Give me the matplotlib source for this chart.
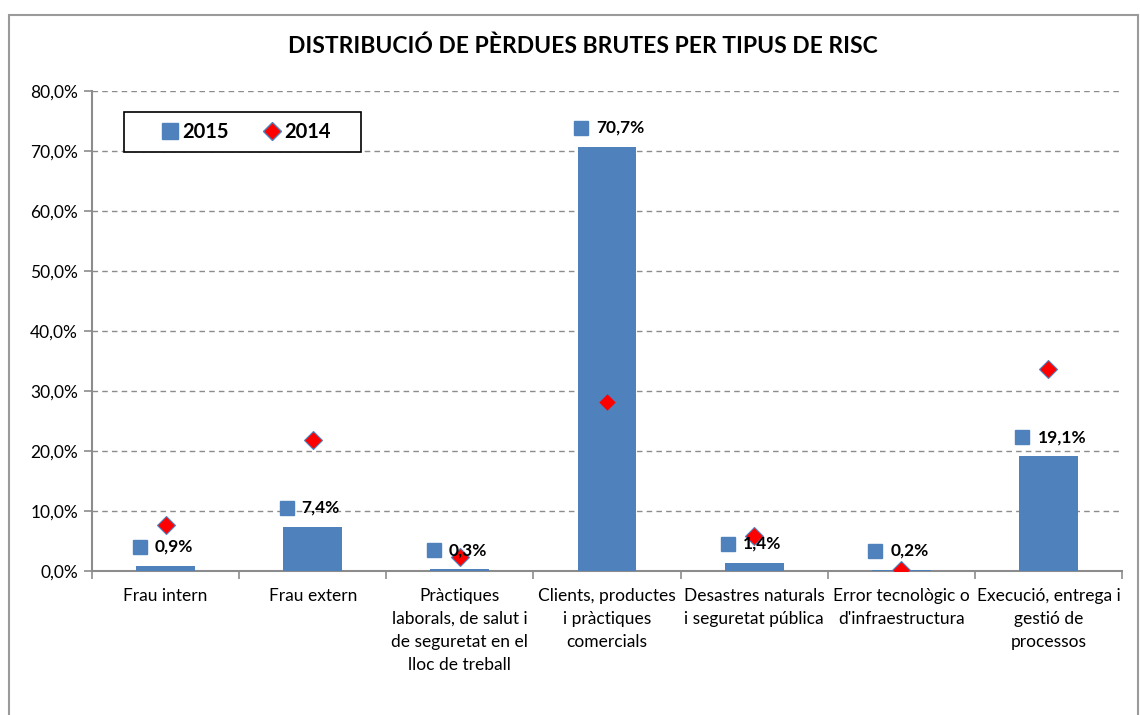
import matplotlib.pyplot as plt
from matplotlib.patches import Rectangle
from matplotlib.lines import Line2D
import matplotlib.transforms as mtransforms
import numpy as np

plt.rcParams['font.family'] = ['Lato', 'DejaVu Sans']

categories = ["Frau intern", "Frau extern",
              "Pràctiques\nlaborals, de salut i\nde seguretat en el\nlloc de treball",
              "Clients, productes\ni pràctiques\ncomercials",
              "Desastres naturals\ni seguretat pública",
              "Error tecnològic o\nd'infraestructura",
              "Execució, entrega i\ngestió de\nprocessos"]
vals_2015 = [0.9, 7.4, 0.3, 70.7, 1.4, 0.2, 19.1]
vals_2014 = [7.7, 21.8, 2.3, 28.2, 5.8, 0.2, 33.7]
yticks = [0, 10, 20, 30, 40, 50, 60, 70, 80]

blue = '#4F81BD'
fig = plt.figure(figsize=(11.4, 7.15), dpi=100)
ax = fig.add_axes([0.0807, 0.2014, 0.9035, 0.6713])

# outer chart border
fig.patches.append(Rectangle((9 / 1140, -0.01), 1129 / 1140, 1 - 15 / 715 + 0.01,
                             transform=fig.transFigure, fill=False,
                             edgecolor='#9a9a9a', linewidth=1.5))

x = np.arange(len(categories))
ax.bar(x, vals_2015, width=0.4, color=blue, zorder=3)
ax.plot(x, vals_2014, linestyle='none', marker='D', markersize=9.5,
        markerfacecolor='#FF0000', markeredgecolor='#4F81BD', markeredgewidth=0.8, zorder=4)

# data labels with legend key
for xi, v in zip(x, vals_2015):
    lab = f"{v:.1f}%".replace('.', ',')
    sq = mtransforms.offset_copy(ax.transData, fig=fig, x=-26, y=19, units='dots')
    ax.plot([xi], [v], marker='s', markersize=10, color=blue, linestyle='none',
            transform=sq, zorder=5, clip_on=False)
    ax.annotate(lab, xy=(xi, v), xytext=(-11, 19), textcoords='offset pixels',
                ha='left', va='center', fontsize=12.5, fontweight='bold', zorder=6)

ax.set_xlim(-0.5, len(categories) - 0.5)
ax.set_ylim(0, 80)
ax.set_yticks(yticks)
ax.set_yticklabels([f"{t:.1f}%".replace('.', ',') for t in yticks], fontsize=12.5)
ax.set_xticks(np.arange(len(categories) + 1) - 0.5)
ax.set_xticklabels([])
ax.set_xticks(x, minor=True)
ax.set_xticklabels(categories, minor=True, fontsize=12.5, linespacing=1.55, va='top')
ax.tick_params(axis='x', which='minor', length=0, pad=12)
ax.tick_params(axis='x', which='major', length=6, color='#8c8c8c', width=1.2)
ax.tick_params(axis='y', length=6, color='#8c8c8c', width=1.2, pad=4)

ax.grid(axis='y', linestyle=(0, (4, 3)), color='#8c8c8c', linewidth=1, zorder=0)
ax.set_axisbelow(True)
for s in ['top', 'right']:
    ax.spines[s].set_visible(False)
for s in ['left', 'bottom']:
    ax.spines[s].set_color('#8c8c8c')
    ax.spines[s].set_linewidth(1.5)

fig.text(583 / 1140, 1 - 46 / 715, "DISTRIBUCIÓ DE PÈRDUES BRUTES PER TIPUS DE RISC",
         ha='center', va='center', fontsize=16.5, fontweight='bold')

# legend box
fig.patches.append(Rectangle((124 / 1140, 1 - 152 / 715), 237 / 1140, 40 / 715,
                             transform=fig.transFigure, facecolor='white',
                             edgecolor='black', linewidth=1.2, zorder=9))
handles = [Line2D([], [], marker='s', color=blue, linestyle='none', markersize=11),
           Line2D([], [], marker='D', markerfacecolor='#FF0000', markeredgecolor=blue,
                  linestyle='none', markersize=9)]
leg = fig.legend(handles, ['2015', '2014'], ncol=2, loc='center',
                 bbox_to_anchor=(245 / 1140, 1 - 132 / 715), frameon=False,
                 handletextpad=0.05, columnspacing=1.6, handlelength=1.1,
                 prop={'weight': 'bold', 'size': 14.5})
leg.set_zorder(10)

fig.savefig('out.png', dpi=100)
